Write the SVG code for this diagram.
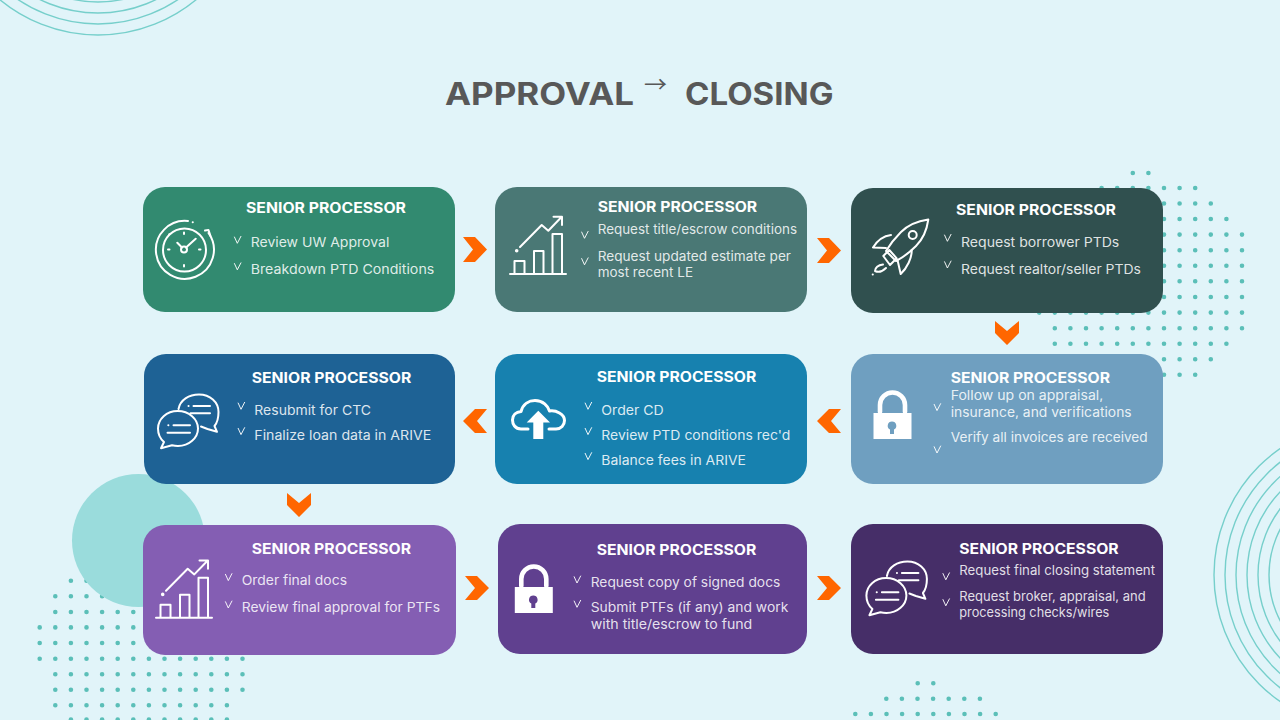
<svg xmlns="http://www.w3.org/2000/svg" width="1280" height="720" viewBox="0 0 1280 720">
<style>
.dots{fill:none;stroke:#5BBFB8;stroke-width:4.6;stroke-linecap:round;stroke-dasharray:0 15.6}
.ring{fill:none;stroke:#76CFCB;stroke-width:1.4}
.card{stroke:none}
.h{font-family:Inter,"Liberation Sans",sans-serif;font-weight:700;font-size:14px;fill:#fff}
.b{font-family:Inter,"Liberation Sans",sans-serif;font-weight:400;font-size:13px;fill:#fff;fill-opacity:.86}
.title{font-family:Inter,"Liberation Sans",sans-serif;font-weight:700;font-size:31px;fill:#585858}
.arrow{font-family:"Noto Sans CJK SC","Liberation Sans",sans-serif;font-weight:400;font-size:22px;fill:#585858}
.ck{fill:none;stroke:#fff;stroke-width:1;stroke-opacity:.92}
.ic{fill:none;stroke:#fff;stroke-width:2;stroke-linecap:round;stroke-linejoin:round}
.chev{fill:#FF6600}
.fw{fill:#fff}
</style>
<defs>
<path id="ck" class="ck" d="M0 .7L3 7.3L6.8 0"/>
<g id="chart" class="ic">
<path d="M510 274H566M514.5 273V261H524.5V273M534 273V251H543.5V273M552.5 273V234H562V273"/>
<path d="M520 247L541.7 225L548.3 230.7L561.5 217M553.5 216.7H562V225"/>
<circle cx="516.7" cy="250.7" r=".8" class="fw"/>
</g>
<g id="chat" class="ic">
<path d="M178.5 409C180 400 189 394.5 199 394.5C210 394.5 218.5 402 218.5 412C218.5 418 217 423 214.5 426L217 431.8L207.5 429L201 426.5"/>
<path d="M177.7 411C166.5 411 158 419 158 428.5C158 434 160.5 439 164 442L161 448.2L172 445.3C174 445.8 176 446 178 446C189 446 198 438 198 428.5C198 419 189 411 177.7 411Z"/>
<path d="M173.5 425.3H190M167.5 432.7H190M193.5 406H210M190.5 413.3H210M168.3 425.3h.1M188.5 406h.1"/>
</g>
<path id="lockb" class="fw" d="M873.5 413H911.5V439H873.5Z"/>
</defs>
<rect width="1280" height="720" fill="#E1F4F9"/>
<g id="decor">
<g id="rings-tl" class="ring"><circle cx="98" cy="-119" r="154"/><circle cx="98" cy="-119" r="143"/><circle cx="98" cy="-119" r="132"/><circle cx="98" cy="-119" r="121"/></g>
<g id="rings-r" class="ring"><circle cx="1368" cy="575" r="154"/><circle cx="1368" cy="575" r="143"/><circle cx="1368" cy="575" r="132"/><circle cx="1368" cy="575" r="121"/><circle cx="1368" cy="575" r="110"/><circle cx="1368" cy="575" r="99"/></g>
<path class="dots" d="M1132.8 173H1149.5M1101.6 188H1196M1101.6 203.5H1211.5M1086 219H1227M1070.4 234.6H1242.7M1070.4 250.2H1242.7M1070.4 265.7H1242.7M1070.4 281.3H1242.7M1070.4 297H1242.7M1039.2 312.6H1242.7M1054.8 328.2H1242.7M1054.8 343.8H1227M1070.4 359.3H1211.5M1132.8 374.8H1196"/>
<path class="dots" d="M70.9 580.7H211M55.3 596.3H226.5M55.3 612H226.5M39.7 627.4H242.6M39.7 643H242.6M39.7 658.7H242.6M55.3 674.2H242.6M55.3 689.8H242.6M55.3 705.3H227M70.9 719.5H227"/>
<path class="dots" d="M917.7 683.3H934M886.3 698.7H981M855.3 714H996.5"/>
<circle cx="138.5" cy="540.5" r="66.5" fill="#9ADCDC"/>
</g>
<text id="title" class="title" y="104.6"><tspan x="445" textLength="189" lengthAdjust="spacingAndGlyphs">APPROVAL</tspan> <tspan class="arrow" x="644" y="92" textLength="23" lengthAdjust="spacingAndGlyphs">→</tspan> <tspan x="685" y="104.6" textLength="148.5" lengthAdjust="spacingAndGlyphs">CLOSING</tspan></text>
<g id="connectors">
<path class="chev" d="M463 237H475L487 249.5L475 262H463L473 249.5Z"/>
<path class="chev" d="M817 238H829L841 250.5L829 263H817L827 250.5Z"/>
<path class="chev" d="M995 321L1007 331L1019 321V333L1007 345L995 333Z"/>
<path class="chev" d="M841 409H829L817 421L829 433H841L831 421Z"/>
<path class="chev" d="M487 409H475L463 421L475 433H487L477 421Z"/>
<path class="chev" d="M287 493L299 503L311 493V505L299 517L287 505Z"/>
<path class="chev" d="M465 576H477L489 588L477 600H465L475 588Z"/>
<path class="chev" d="M817 576H829L841 588L829 600H817L827 588Z"/>
</g>
<g id="node1">
<rect class="card" x="143" y="187" width="312" height="125" rx="22" fill="#328A70"/>
<g class="ic">
<path d="M188 221A29 29 0 1 0 208.5 233"/>
<path d="M205 230.5L208.5 230L210.5 236"/>
<circle cx="184.5" cy="250" r="21.5"/>
<circle cx="184" cy="249.5" r="3"/>
<path d="M182 247.5L177.3 242.7M186 247.5L195.7 238.7M184 232.5V234M184 265V266.5M199 249.5H200.5M168 249.5H169.5"/>
<path d="M192.7 222.3h.1M169.3 234.3h.1"/>
</g>
<text class="h" x="246" y="213" textLength="160" lengthAdjust="spacingAndGlyphs">SENIOR PROCESSOR</text>
<use href="#ck" x="234.3" y="236"/><use href="#ck" x="234.3" y="262.5"/>
<text class="b" x="250.7" y="247.3" textLength="138.6" lengthAdjust="spacingAndGlyphs">Review UW Approval</text>
<text class="b" x="250.7" y="274.3" textLength="183.6" lengthAdjust="spacingAndGlyphs">Breakdown PTD Conditions</text>
</g>
<g id="node2">
<rect class="card" x="495" y="187" width="312" height="125" rx="22" fill="#4A7875"/>
<use href="#chart"/>
<text class="h" x="597.7" y="212" textLength="159.5" lengthAdjust="spacingAndGlyphs">SENIOR PROCESSOR</text>
<use href="#ck" x="581.5" y="231"/><use href="#ck" x="581.5" y="257.5"/>
<text class="b" x="597.7" y="234" textLength="199.3" lengthAdjust="spacingAndGlyphs">Request title/escrow conditions</text>
<text class="b" x="597.7" y="261" textLength="193.3" lengthAdjust="spacingAndGlyphs">Request updated estimate per</text>
<text class="b" x="597.7" y="276.7" textLength="95.3" lengthAdjust="spacingAndGlyphs">most recent LE</text>
</g>
<g id="node3">
<rect class="card" x="851" y="188" width="312" height="125" rx="22" fill="#30504F"/>
<g class="ic">
<path d="M928.3 219.5C918 221 908 225 901 232C895 238 889 246 886 251L896 261C902 258 910 252 916 246C923 239 927 229 928.3 219.5Z"/>
<path d="M891 235C883 236 877 241 873 247.5L886 248M911.7 250C912 258 907 268 900.7 274L897.5 260"/>
<path d="M883.3 256L889.3 250L896.7 258.3L890 265Z"/>
<path d="M883 264.5C878 265 875 268 875 271C879 273 883 271 886 268"/>
<circle cx="912.7" cy="235" r="4"/>
<path d="M872.7 274.5h.1"/>
</g>
<text class="h" x="956" y="215" textLength="160" lengthAdjust="spacingAndGlyphs">SENIOR PROCESSOR</text>
<use href="#ck" x="944.4" y="234"/><use href="#ck" x="944.4" y="260.7"/>
<text class="b" x="961" y="247.3" textLength="158.3" lengthAdjust="spacingAndGlyphs">Request borrower PTDs</text>
<text class="b" x="961" y="274.3" textLength="180" lengthAdjust="spacingAndGlyphs">Request realtor/seller PTDs</text>
</g>
<g id="node4">
<rect class="card" x="144" y="354" width="311" height="130" rx="22" fill="#1E6295"/>
<use href="#chat"/>
<text class="h" x="251.7" y="383" textLength="159.6" lengthAdjust="spacingAndGlyphs">SENIOR PROCESSOR</text>
<use href="#ck" x="238" y="402"/><use href="#ck" x="238" y="427.3"/>
<text class="b" x="254.3" y="415.3" textLength="116.7" lengthAdjust="spacingAndGlyphs">Resubmit for CTC</text>
<text class="b" x="254.3" y="440.3" textLength="177" lengthAdjust="spacingAndGlyphs">Finalize loan data in ARIVE</text>
</g>
<g id="node5">
<rect class="card" x="495" y="354" width="312" height="130" rx="22" fill="#1781AF"/>
<path class="ic" style="stroke-width:3" d="M528 429H521C515 429 512.5 424 512.5 420C512.5 415 516 412 521 411.5C523 404 529 400.5 535 400.5C543 400.5 548 406 549.5 411C556 410 564.5 414 564.5 420.5C564.5 425 561 429 556 429H549"/>
<path class="fw" d="M538.3 410.7L550 422.5H543.3V439H533.3V422.5H526.7Z"/>
<text class="h" x="596.7" y="382" textLength="159.6" lengthAdjust="spacingAndGlyphs">SENIOR PROCESSOR</text>
<use href="#ck" x="585" y="402"/><use href="#ck" x="585" y="427.3"/><use href="#ck" x="585" y="452.3"/>
<text class="b" x="601.3" y="415.3" textLength="62.4" lengthAdjust="spacingAndGlyphs">Order CD</text>
<text class="b" x="601.3" y="440.3" textLength="189" lengthAdjust="spacingAndGlyphs">Review PTD conditions rec'd</text>
<text class="b" x="601.3" y="465" textLength="144.7" lengthAdjust="spacingAndGlyphs">Balance fees in ARIVE</text>
</g>
<g id="node6">
<rect class="card" x="851" y="354" width="312" height="130" rx="22" fill="#6F9FC0"/>
<path class="ic" style="stroke-width:4.6" d="M880 412V405A12.5 12.5 0 0 1 905 405V412"/>
<use href="#lockb"/>
<path fill="#6F9FC0" d="M892 421.5a4.3 4.3 0 0 1 2 8.1V434h-4v-4.4a4.3 4.3 0 0 1 2-8.1Z"/>
<text class="h" x="950.7" y="382.7" textLength="159.3" lengthAdjust="spacingAndGlyphs">SENIOR PROCESSOR</text>
<use href="#ck" x="934" y="403.3"/><use href="#ck" x="934" y="445.7"/>
<text class="b" x="950.7" y="400" textLength="152.6" lengthAdjust="spacingAndGlyphs">Follow up on appraisal,</text>
<text class="b" x="950.7" y="416.7" textLength="181" lengthAdjust="spacingAndGlyphs">insurance, and verifications</text>
<text class="b" x="950.7" y="441.7" textLength="197" lengthAdjust="spacingAndGlyphs">Verify all invoices are received</text>
</g>
<g id="node7">
<rect class="card" x="143" y="525" width="313" height="130" rx="22" fill="#845EB3"/>
<use href="#chart" transform="translate(-354 343.7)"/>
<text class="h" x="251.7" y="554" textLength="159.3" lengthAdjust="spacingAndGlyphs">SENIOR PROCESSOR</text>
<use href="#ck" x="225.3" y="573.3"/><use href="#ck" x="225.3" y="600.7"/>
<text class="b" x="241.7" y="585" textLength="105.3" lengthAdjust="spacingAndGlyphs">Order final docs</text>
<text class="b" x="241.7" y="612.3" textLength="198.3" lengthAdjust="spacingAndGlyphs">Review final approval for PTFs</text>
</g>
<g id="node8">
<rect class="card" x="498" y="524" width="309" height="130" rx="22" fill="#60408F"/>
<g transform="translate(-358.7 174)">
<path class="ic" style="stroke-width:4.6" d="M880 412V405A12.5 12.5 0 0 1 905 405V412"/>
<use href="#lockb"/>
<path fill="#60408F" d="M892 421.5a4.3 4.3 0 0 1 2 8.1V434h-4v-4.4a4.3 4.3 0 0 1 2-8.1Z"/>
</g>
<text class="h" x="596.7" y="555" textLength="159.6" lengthAdjust="spacingAndGlyphs">SENIOR PROCESSOR</text>
<use href="#ck" x="574" y="575.7"/><use href="#ck" x="574" y="600"/>
<text class="b" x="590.7" y="587.3" textLength="189.6" lengthAdjust="spacingAndGlyphs">Request copy of signed docs</text>
<text class="b" x="590.7" y="612.3" textLength="197.6" lengthAdjust="spacingAndGlyphs">Submit PTFs (if any) and work</text>
<text class="b" x="590.7" y="629.3" textLength="161.6" lengthAdjust="spacingAndGlyphs">with title/escrow to fund</text>
</g>
<g id="node9">
<rect class="card" x="851" y="524" width="312" height="130" rx="22" fill="#462E68"/>
<use href="#chat" transform="translate(708.4 167)"/>
<text class="h" x="959.3" y="554" textLength="159.4" lengthAdjust="spacingAndGlyphs">SENIOR PROCESSOR</text>
<use href="#ck" x="942.8" y="572.5"/><use href="#ck" x="942.8" y="598.5"/>
<text class="b" x="959.3" y="575" textLength="195.7" lengthAdjust="spacingAndGlyphs">Request final closing statement</text>
<text class="b" x="959.3" y="601.3" textLength="186.4" lengthAdjust="spacingAndGlyphs">Request broker, appraisal, and</text>
<text class="b" x="959.3" y="617.3" textLength="150" lengthAdjust="spacingAndGlyphs">processing checks/wires</text>
</g>
</svg>
